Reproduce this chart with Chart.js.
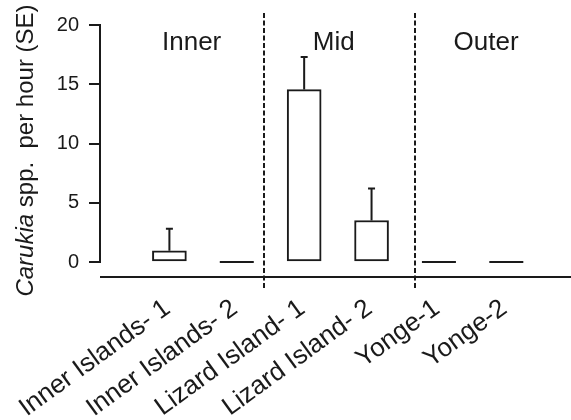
<!doctype html>
<html lang="en">
  <head>
    <meta charset="utf-8">
    <title>Carukia spp. per hour</title>
    <script src="https://cdn.jsdelivr.net/npm/chart.js"></script>
    <style>
      body { margin: 0; background: #fff; }
      #wrap { width: 571px; height: 420px; }
    </style>
  </head>
  <body>
    <div id="wrap">
      <canvas id="myChart"></canvas>
    </div>

    <script>
        // data
        const sites = ['Inner Islands- 1', 'Inner Islands- 2', 'Lizard Island- 1', 'Lizard Island- 2', 'Yonge-1', 'Yonge-2'];
        const means = [0.95, 0, 14.55, 3.5, 0, 0];
        const se = [1.85, 0, 2.75, 2.7, 0, 0];
        const yTicks = [0, 5, 10, 15, 20];

        // zones along the x axis (in site-index units)
        const zoneNames = ['Inner', 'Mid', 'Outer'];
        const zoneCentres = [0.33, 2.44, 4.7];
        const zoneBreaks = [1.41, 3.64];

        const FONT = '"Liberation Sans", Arial, Helvetica, sans-serif';
        const INK = '#1a1a1a';
        const BAR_W = 34;

        const extras = {
            id: 'extras',
            afterDatasetsDraw(chart) {
                const ctx = chart.ctx;
                const x = chart.scales.x, y = chart.scales.y;
                const area = chart.chartArea;
                ctx.save();
                ctx.strokeStyle = INK;
                ctx.lineWidth = 2;

                // zero-height bars show as a flat line
                means.forEach((m, i) => {
                    if (m !== 0) return;
                    const px = x.getPixelForValue(i);
                    const py = Math.round(y.getPixelForValue(0));
                    ctx.beginPath();
                    ctx.moveTo(px - BAR_W / 2, py);
                    ctx.lineTo(px + BAR_W / 2, py);
                    ctx.stroke();
                });

                // error bars (upper half only)
                means.forEach((m, i) => {
                    if (!se[i]) return;
                    const px = x.getPixelForValue(i);
                    const y0 = y.getPixelForValue(m);
                    const y1 = y.getPixelForValue(m + se[i]);
                    ctx.beginPath();
                    ctx.moveTo(px, y0);
                    ctx.lineTo(px, y1);
                    ctx.moveTo(px - 3.5, y1);
                    ctx.lineTo(px + 3.5, y1);
                    ctx.stroke();
                });

                // detached x axis line
                const axisY = area.bottom + 15;
                ctx.beginPath();
                ctx.moveTo(area.left, axisY);
                ctx.lineTo(chart.width, axisY);
                ctx.stroke();

                // zone dividers
                ctx.setLineDash([5, 2.5]);
                zoneBreaks.forEach(b => {
                    const px = Math.round(x.getPixelForValue(b));
                    ctx.beginPath();
                    ctx.moveTo(px, 13);
                    ctx.lineTo(px, axisY + 11);
                    ctx.stroke();
                });
                ctx.setLineDash([]);

                // zone names
                ctx.fillStyle = INK;
                ctx.font = '26px ' + FONT;
                ctx.textAlign = 'center';
                ctx.textBaseline = 'alphabetic';
                zoneNames.forEach((n, i) => {
                    ctx.fillText(n, x.getPixelForValue(zoneCentres[i]), 49.5);
                });

                // y axis title, italic genus name
                const part1 = 'Carukia';
                const part2 = ' spp.  per hour (SE)';
                ctx.font = 'italic 24px ' + FONT;
                const w1 = ctx.measureText(part1).width;
                ctx.font = '24px ' + FONT;
                const w2 = ctx.measureText(part2).width;
                ctx.translate(33, 150.5);
                ctx.rotate(-Math.PI / 2);
                ctx.textAlign = 'left';
                const start = -(w1 + w2) / 2;
                ctx.font = 'italic 24px ' + FONT;
                ctx.fillText(part1, start, 0);
                ctx.font = '24px ' + FONT;
                ctx.fillText(part2, start + w1, 0);
                ctx.restore();
            }
        };

        const data = {
            datasets: [{
                data: means.map((v, i) => ({ x: i, y: v })),
                backgroundColor: '#ffffff',
                borderColor: INK,
                borderWidth: 2,
                borderSkipped: false,
                barThickness: BAR_W
            }]
        };

        const config = {
            type: 'bar',
            data,
            options: {
                responsive: true,
                maintainAspectRatio: false,
                animation: false,
                layout: { padding: { top: 25, left: 0, right: 0, bottom: 0 } },
                plugins: {
                    legend: { display: false },
                    tooltip: { enabled: false }
                },
                scales: {
                    x: {
                        type: 'linear',
                        offset: false,
                        min: -1.03,
                        max: 5.96,
                        grid: { display: false, offset: false },
                        border: { display: false },
                        afterBuildTicks: (scale) => {
                            scale.ticks = sites.map((_, i) => ({ value: i }));
                        },
                        afterFit: (scale) => {
                            scale.height = 158;
                            scale.paddingLeft = 0;
                            scale.paddingRight = 0;
                        },
                        ticks: {
                            autoSkip: false,
                            minRotation: 36,
                            maxRotation: 36,
                            padding: 23,
                            labelOffset: -2,
                            color: INK,
                            font: { family: FONT, size: 26 },
                            callback: (v) => sites[v]
                        }
                    },
                    y: {
                        min: 0,
                        max: 20,
                        afterBuildTicks: (scale) => {
                            scale.ticks = yTicks.map(v => ({ value: v }));
                        },
                        afterFit: (scale) => { scale.width = 100; },
                        border: { display: true, color: INK, width: 2 },
                        grid: {
                            drawOnChartArea: false,
                            drawTicks: true,
                            tickLength: 11,
                            color: INK,
                            lineWidth: 2
                        },
                        ticks: {
                            padding: 10,
                            color: INK,
                            font: { family: FONT, size: 20 }
                        }
                    }
                }
            },
            plugins: [extras]
        };

        const myChart = new Chart(document.getElementById('myChart'), config);
    </script>
  </body>
</html>
